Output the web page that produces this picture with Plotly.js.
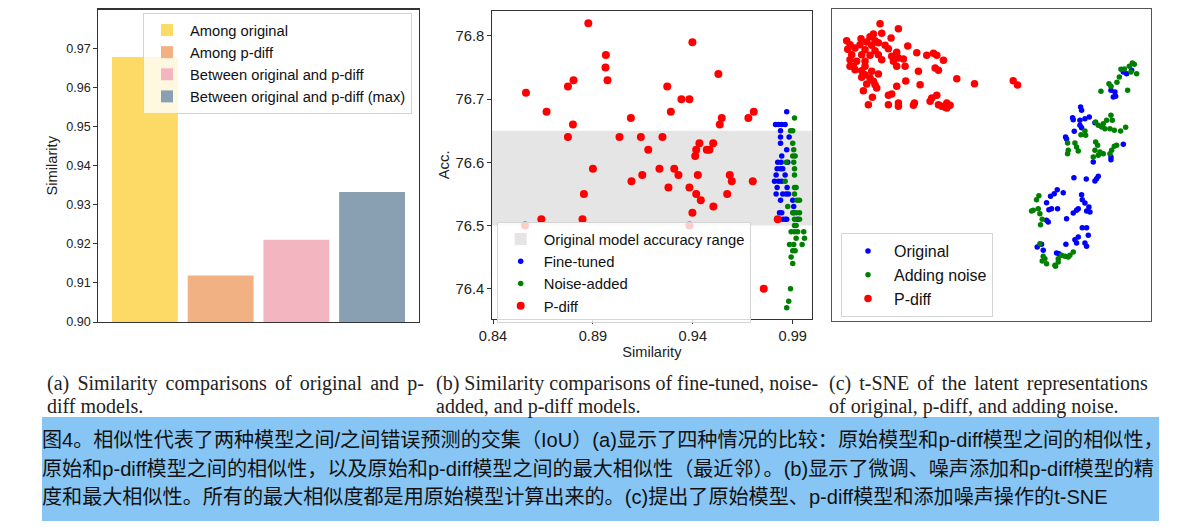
<!DOCTYPE html>
<html><head><meta charset="utf-8">
<script src="https://cdn.plot.ly/plotly-3.0.1.min.js"></script>
<style>html,body{margin:0;padding:0;background:#fff}#chart{width:1181px;height:527px}</style>
</head><body><div id="chart"></div>
<script>
// ---------- Panel (a): similarity bars ----------
const simCategories = ['Among original', 'Among p-diff', 'Between original and p-diff', 'Between original and p-diff (max)'];
const simValues = [0.9679, 0.9119, 0.9211, 0.9333];
const simColors = ['#FDD966', '#F2B183', '#F3B6C0', '#899FB2'];
const simTicks = [0.90, 0.91, 0.92, 0.93, 0.94, 0.95, 0.96, 0.97];

// ---------- Panel (b): similarity vs accuracy ----------
const accRange = [76.5, 76.65];
const simTickVals = [0.84, 0.89, 0.94, 0.99];
const accTickVals = [76.4, 76.5, 76.6, 76.7, 76.8];
const fineSim = [0.9870, 0.9814, 0.9829, 0.9845, 0.9862, 0.9839, 0.9839, 0.9882, 0.9839, 0.9870, 0.9845,
  0.9825, 0.9842, 0.9875, 0.9822, 0.9839, 0.9850, 0.9817, 0.9862, 0.9809, 0.9829, 0.9845, 0.9822, 0.9872,
  0.9817, 0.9850, 0.9867, 0.9879, 0.9839, 0.9900, 0.9905, 0.9834, 0.9845, 0.9905, 0.9850, 0.9862, 0.9870, 0.9925];
const fineAcc = [76.68, 76.66, 76.66, 76.66, 76.66, 76.65, 76.64, 76.64, 76.63, 76.62, 76.61,
  76.60, 76.60, 76.60, 76.59, 76.59, 76.59, 76.58, 76.58, 76.57, 76.57, 76.57, 76.56, 76.56,
  76.55, 76.55, 76.55, 76.55, 76.54, 76.54, 76.53, 76.52, 76.52, 76.52, 76.51, 76.51, 76.51, 76.51];
const noiseSim = [0.9909, 0.9889, 0.9900, 0.9900, 0.9905, 0.9900, 0.9912, 0.9868, 0.9905, 0.9909, 0.9909,
  0.9862, 0.9909, 0.9917, 0.9909, 0.9922, 0.9934, 0.9875, 0.9900, 0.9917, 0.9934, 0.9909, 0.9934,
  0.9909, 0.9917, 0.9892, 0.9909, 0.9925, 0.9955, 0.9917, 0.9959, 0.9884, 0.9905, 0.9947, 0.9900, 0.9912,
  0.9892, 0.9900, 0.9889, 0.9880, 0.9870];
const noiseAcc = [76.67, 76.65, 76.65, 76.63, 76.62, 76.61, 76.61, 76.60, 76.60, 76.59, 76.58,
  76.57, 76.56, 76.56, 76.55, 76.54, 76.54, 76.53, 76.52, 76.52, 76.52, 76.51, 76.51,
  76.50, 76.50, 76.49, 76.49, 76.49, 76.49, 76.48, 76.48, 76.47, 76.47, 76.47, 76.46, 76.46,
  76.45, 76.44, 76.40, 76.38, 76.37];
const pdiffSim = [0.8877, 0.9398, 0.8965, 0.8963, 0.8973, 0.9528, 0.8565, 0.8775, 0.8803, 0.9272, 0.9343,
  0.9383, 0.9290, 0.8668, 0.9090, 0.9545, 0.9535, 0.9678, 0.9705, 0.8800, 0.8775, 0.9033, 0.9140, 0.9248,
  0.9177, 0.9433, 0.9502, 0.9417, 0.9470, 0.9483, 0.9412, 0.8900, 0.9233, 0.9307, 0.9147, 0.9328, 0.9425,
  0.9585, 0.9093, 0.9595, 0.9700, 0.8855, 0.9278, 0.9383, 0.9417, 0.9572, 0.9440, 0.9503, 0.9398, 0.8642,
  0.8848, 0.8560, 0.9383, 0.9825, 0.9755];
const pdiffAcc = [76.82, 76.79, 76.77, 76.75, 76.73, 76.74, 76.71, 76.72, 76.73, 76.72, 76.70,
  76.70, 76.68, 76.68, 76.67, 76.67, 76.66, 76.67, 76.68, 76.66, 76.64, 76.64, 76.64, 76.64,
  76.62, 76.63, 76.63, 76.62, 76.62, 76.62, 76.61, 76.59, 76.59, 76.59, 76.58, 76.58, 76.58,
  76.58, 76.57, 76.57, 76.57, 76.55, 76.56, 76.56, 76.55, 76.55, 76.54, 76.53, 76.52, 76.51,
  76.51, 76.50, 76.50, 76.51, 76.40];

// ---------- Panel (c): t-SNE ----------
const tsneOrigX = [39.5, 40.5, 42.0, 35.8, 37.0, 37.2, 36.5,
  26.7, 27.0, 24.3, 24.5, 26.5, 28.0, 29.3, 26.5, 27.0, 24.8, 22.2, 22.5, 31.0, 39.5, 35.8, 30.5, 35.8,
  24.7, 28.4, 31.0, 31.5, 32.0, 19.7, 21.5, 18.8, 17.7, 16.5, 17.2, 18.0, 19.8, 27.0, 27.2, 28.0, 29.2,
  29.5, 28.5, 25.5, 24.5, 26.0, 22.5, 16.5, 17.0, 27.2, 28.5, 29.0, 26.0, 25.0, 25.5, 28.0, 28.5, 22.3,
  13.7, 15.0, 15.5, 19.5, 20.2];
const tsneOrigY = [28.4, 27.9, 28.9, 22.9, 22.4, 21.1, 20.9,
  17.9, 16.9, 14.7, 14.1, 13.9, 14.4, 14.9, 12.4, 11.7, 10.6, 8.9, 8.3, 13.2, 6.7, 2.9, 1.4, 2.1,
  -3.3, -3.7, -4.3, -3.6, -2.9, -6.9, -7.8, -8.1, -8.9, -10.8, -12.9, -12.6, -12.6, -8.4, -9.9, -10.9, -12.1,
  -13.6, -13.3, -13.1, -13.9, -12.6, -15.6, -16.1, -16.6, -18.3, -18.3, -20.6, -21.1, -21.9, -22.9, -22.9, -23.9, -23.3,
  -24.1, -23.3, -25.1, -25.9, -26.1];
const tsneNoiseX = [38.8, 39.8, 41.3, 42.2, 42.8, 43.5, 41.8, 38.3, 37.6, 35.2, 35.8, 32.8, 40.8,
  31.2, 32.0, 33.5, 34.5, 35.8, 36.2, 33.0, 34.0, 35.5, 36.8, 38.7, 40.2, 28.0, 26.8, 28.2, 22.8, 25.0,
  25.5, 23.0, 26.0, 22.8, 31.2, 31.8, 31.0, 32.5, 33.5, 32.0, 36.8, 37.5, 36.0, 35.5, 30.5,
  14.2, 13.5, 12.5, 12.0, 14.0, 14.5, 15.2, 14.7, 14.5, 15.5, 16.0, 15.2, 16.5, 19.0, 20.0, 21.0, 22.0,
  23.5, 24.5, 20.0, 19.2, 23.0];
const tsneNoiseY = [29.2, 29.3, 30.1, 31.1, 30.7, 27.9, 28.4, 26.9, 25.3, 24.9, 24.1, 22.6, 22.9,
  13.4, 12.4, 12.9, 13.9, 15.4, 13.9, 11.9, 11.4, 11.4, 10.9, 10.7, 11.8, 10.7, 9.6, 9.4, 7.1, 7.1,
  5.9, 4.9, 4.7, 3.9, 7.4, 6.4, 4.9, 4.4, 3.9, 3.4, 6.1, 6.4, 4.9, 3.9, 2.9,
  -8.7, -9.9, -13.1, -13.3, -12.6, -14.1, -15.8, -17.4, -23.1, -26.9, -27.6, -28.3, -29.1, -29.6, -27.6, -26.6, -26.9,
  -26.6, -25.6, -28.6, -29.9, -27.1];
const tsnePdiffX = [-33.4, -27.9, -32.9, -35.4, -36.4, -39.1, -43.4, -34.9, -37.4, -33.9, -30.1, -42.4,
  -39.4, -35.9, -31.9, -30.9, -43.1, -40.9, -37.9, -34.9, -25.1, -22.4, -28.4, -19.4, -17.4, -16.4,
  -41.9, -38.9, -36.4, -33.9, -29.9, -27.9, -26.4, -42.4, -40.4, -37.9, -32.9, -29.4, -14.4, -41.4,
  -37.9, -42.4, -28.4, -25.9, -16.9, -15.9, -38.9, -35.9, -40.9, -21.9, -37.9, -33.9, -38.9, -36.4,
  -35.4, -25.7, -10.4, -5.1, -37.4, -34.9, -34.4, -28.4, -21.4, -38.4, -30.9, -29.9, -35.7, -17.9,
  -16.4, -18.4, -36.9, -30.9, -27.9, -27.9, -23.1, -23.4, -15.9, -14.9, -13.4, -13.9, -12.4, -13.4,
  6.5, 7.8];
const tsnePdiffY = [42.9, 41.4, 40.0, 39.8, 39.0, 38.4, 37.8, 37.8, 37.4, 37.2, 38.6, 36.6,
  36.6, 36.4, 36.4, 35.4, 35.2, 35.6, 35.1, 34.8, 36.2, 34.2, 34.3, 33.4, 34.0, 33.4,
  33.6, 33.6, 33.4, 33.6, 33.1, 32.6, 32.3, 32.1, 31.6, 31.6, 32.1, 31.6, 31.9, 30.1,
  30.1, 30.1, 30.1, 30.1, 29.6, 28.9, 28.8, 28.6, 29.1, 28.6, 27.6, 27.8, 26.8, 26.6,
  25.6, 25.7, 26.4, 24.9, 24.8, 24.6, 23.6, 24.1, 24.6, 22.8, 21.4, 21.8, 20.8, 20.6,
  21.4, 19.6, 18.6, 18.6, 19.1, 18.1, 19.1, 18.4, 18.6, 18.1, 19.1, 17.8, 18.4, 17.6,
  25.8, 24.5];

// ---------- Captions ----------
const captionA = ['(a) Similarity comparisons of original and p-', 'diff models.'];
const captionB = ['(b) Similarity comparisons of fine-tuned, noise-', 'added, and p-diff models.'];
const captionC = ['(c) t-SNE of the latent representations', 'of original, p-diff, and adding noise.'];
const captionZh = [
  '图4。相似性代表了两种模型之间/之间错误预测的交集（IoU）(a)显示了四种情况的比较：原始模型和p-diff模型之间的相似性，',
  '原始和p-diff模型之间的相似性，以及原始和p-diff模型之间的最大相似性（最近邻）。(b)显示了微调、噪声添加和p-diff模型的精',
  '度和最大相似性。所有的最大相似度都是用原始模型计算出来的。(c)提出了原始模型、p-diff模型和添加噪声操作的t-SNE'
];

// ---------- Layout helpers (pixel -> paper) ----------
const W = 1181, H = 527;
const px = v => v / W;
const py = v => 1 - v / H;
const SANS = 'Liberation Sans, Arial, sans-serif';
const SERIF = 'Liberation Serif, Times New Roman, serif';

const traces = [];
simCategories.forEach((c, i) => {
  traces.push({
    type: 'bar', x: [c], y: [simValues[i]], name: c, width: 0.87,
    marker: {color: simColors[i], line: {width: 0}},
    xaxis: 'x', yaxis: 'y', legend: 'legend', hoverinfo: 'x+y'
  });
});
traces.push({type: 'scatter', mode: 'markers', x: fineSim, y: fineAcc, name: 'Fine-tuned',
  marker: {color: '#0000FF', size: 5.5}, xaxis: 'x2', yaxis: 'y2', legend: 'legend2', legendrank: 2});
traces.push({type: 'scatter', mode: 'markers', x: noiseSim, y: noiseAcc, name: 'Noise-added',
  marker: {color: '#008000', size: 5.5}, xaxis: 'x2', yaxis: 'y2', legend: 'legend2', legendrank: 3});
traces.push({type: 'scatter', mode: 'markers', x: pdiffSim, y: pdiffAcc, name: 'P-diff',
  marker: {color: '#FF0000', size: 8}, xaxis: 'x2', yaxis: 'y2', legend: 'legend2', legendrank: 4});
traces.push({type: 'scatter', mode: 'markers', x: tsneOrigX, y: tsneOrigY, name: 'Original',
  marker: {color: '#0000FF', size: 5.5}, xaxis: 'x3', yaxis: 'y3', legend: 'legend3'});
traces.push({type: 'scatter', mode: 'markers', x: tsneNoiseX, y: tsneNoiseY, name: 'Adding noise',
  marker: {color: '#008000', size: 5.5}, xaxis: 'x3', yaxis: 'y3', legend: 'legend3'});
traces.push({type: 'scatter', mode: 'markers', x: tsnePdiffX, y: tsnePdiffY, name: 'P-diff',
  marker: {color: '#FF0000', size: 7.5}, xaxis: 'x3', yaxis: 'y3', legend: 'legend3'});

const boxAxis = {showline: true, mirror: true, linecolor: '#333', linewidth: 1.2, showgrid: false, zeroline: false};
const legendBase = {xanchor: 'left', yanchor: 'top', bgcolor: 'rgba(255,255,255,0.8)',
  bordercolor: '#d4d4d4', borderwidth: 1, tracegroupgap: 0, font: {family: SANS, color: '#111'}};

const annotations = [];
function addCaption(lines, x) {
  lines.forEach((t, i) => annotations.push({
    text: t, xref: 'paper', yref: 'paper', x: px(x), y: py(383 + 23 * i),
    xanchor: 'left', yanchor: 'middle', showarrow: false,
    font: {family: SERIF, size: 20, color: '#222'}
  }));
}
addCaption(captionA, 45);
addCaption(captionB, 434);
addCaption(captionC, 827);
captionZh.forEach((t, i) => annotations.push({
  text: t, xref: 'paper', yref: 'paper', x: px(40), y: py(440 + 28.5 * i),
  xanchor: 'left', yanchor: 'middle', showarrow: false,
  font: {family: 'Liberation Sans, Noto Sans CJK SC, sans-serif', size: 20.1, color: '#111'}
}));

const layout = {
  width: W, height: H,
  margin: {l: 0, r: 0, t: 0, b: 0, pad: 0},
  paper_bgcolor: '#fff', plot_bgcolor: '#fff',
  font: {family: SANS, color: '#222'},
  barmode: 'overlay',
  xaxis: Object.assign({}, boxAxis, {domain: [px(98), px(419)], anchor: 'y', type: 'category',
    range: [-0.62, 3.62], showticklabels: false, ticks: ''}),
  yaxis: Object.assign({}, boxAxis, {domain: [py(322), py(9.5)], anchor: 'x', range: [0.9, 0.9801],
    tickmode: 'array', tickvals: simTicks, tickformat: '.2f', ticks: 'outside', ticklen: 3.5, tickcolor: '#333',
    tickfont: {size: 12.6, family: SANS, color: '#222'},
    title: {text: 'Similarity', font: {size: 14.7, family: SANS, color: '#222'}, standoff: 5}}),
  xaxis2: Object.assign({}, boxAxis, {domain: [px(492), px(811.7)], anchor: 'y2', range: [0.8395, 0.9995],
    tickmode: 'array', tickvals: simTickVals, tickformat: '.2f', ticks: 'outside', ticklen: 3.5, tickcolor: '#333',
    tickfont: {size: 14.6, family: SANS, color: '#222'},
    title: {text: 'Similarity', font: {size: 14.6, family: SANS, color: '#222'}, standoff: 0}}),
  yaxis2: Object.assign({}, boxAxis, {domain: [py(319), py(10.7)], anchor: 'x2', range: [76.352, 76.84],
    tickmode: 'array', tickvals: accTickVals, tickformat: '.1f', ticks: 'outside', ticklen: 3.5, tickcolor: '#333',
    tickfont: {size: 14.8, family: SANS, color: '#222'},
    title: {text: 'Acc.', font: {size: 14.8, family: SANS, color: '#222'}, standoff: 2}}),
  xaxis3: Object.assign({}, boxAxis, {domain: [px(832), px(1151)], anchor: 'y3', range: [-47.8, 47.8],
    showticklabels: false, ticks: '', linecolor: '#555'}),
  yaxis3: Object.assign({}, boxAxis, {domain: [py(320.7), py(9.3)], anchor: 'x3', range: [-46.2, 47.2],
    showticklabels: false, ticks: '', linecolor: '#555'}),
  legend: Object.assign({}, legendBase, {x: px(143), y: py(13), itemwidth: 36,
    font: {family: SANS, size: 14.7, color: '#111'}}),
  legend2: Object.assign({}, legendBase, {x: px(496.7), y: py(222), itemwidth: 36,
    font: {family: SANS, size: 14.8, color: '#111'}}),
  legend3: Object.assign({}, legendBase, {x: px(841), y: py(233), itemwidth: 42,
    font: {family: SANS, size: 16, color: '#111'}}),
  shapes: [
    {type: 'rect', xref: 'x2 domain', x0: 0, x1: 1, yref: 'y2', y0: accRange[0], y1: accRange[1],
     fillcolor: '#e5e5e5', line: {width: 0}, layer: 'below',
     showlegend: true, legend: 'legend2', legendrank: 1, name: 'Original model accuracy range'},
    {type: 'rect', xref: 'paper', yref: 'paper', x0: px(42), x1: px(1159), y0: py(521), y1: py(417),
     fillcolor: '#86C5F4', line: {width: 0}, layer: 'below'}
  ],
  annotations: annotations,
  showlegend: true
};

// Justified first caption lines (LaTeX-style word spacing), keeping the left edge fixed
const justifySpacing = {};
justifySpacing[captionA[0]] = '3.2px';
justifySpacing[captionC[0]] = '3px';
Plotly.newPlot('chart', traces, layout, {displayModeBar: false, staticPlot: true}).then(gd => {
  gd.querySelectorAll('.annotation-text').forEach(el => {
    const ws = justifySpacing[el.textContent];
    if (!ws) return;
    const before = el.getBBox().x;
    el.style.wordSpacing = ws;
    const after = el.getBBox().x;
    el.setAttribute('transform', 'translate(' + (before - after) + ',0)');
  });
});
</script></body></html>
